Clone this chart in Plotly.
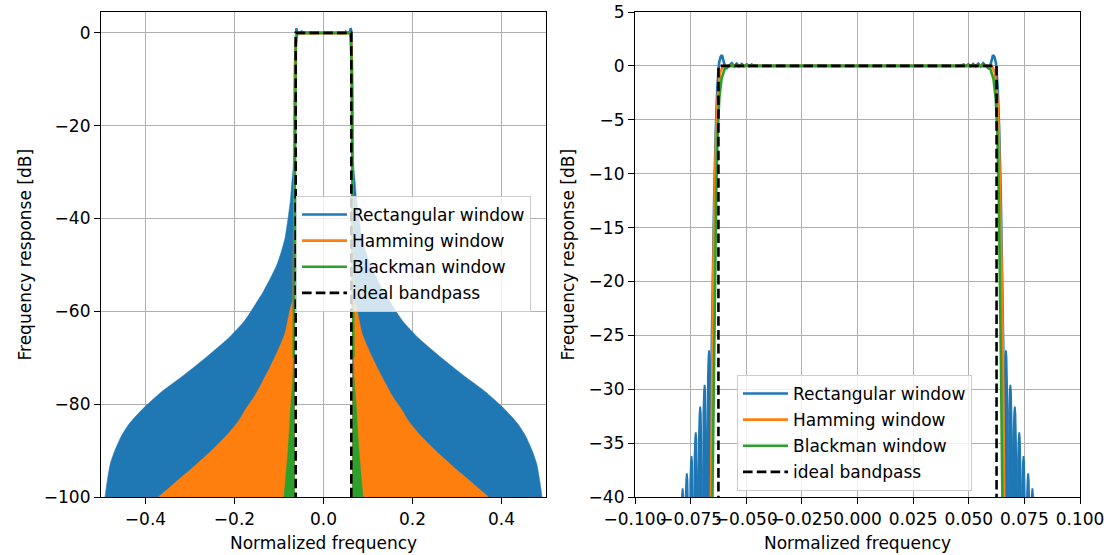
import plotly.graph_objects as go

FONT = "DejaVu Sans"
BLUE, ORANGE, GREEN = "#1f77b4", "#ff7f0e", "#2ca02c"
W, H = 1107, 555

# ---------------- tick positions ----------------
left_xticks = [-0.4, -0.2, 0.0, 0.2, 0.4]
left_yticks = [0, -20, -40, -60, -80, -100]
right_xticks = [-0.100, -0.075, -0.050, -0.025, 0.000, 0.025, 0.050, 0.075, 0.100]
right_yticks = [5, 0, -5, -10, -15, -20, -25, -30, -35, -40]

# ---------------- ideal bandpass ----------------
ideal_f = [-0.5, -0.0625, -0.0625, 0.0625, 0.0625, 0.5]
ideal_db = [-300, -300, 0, 0, -300, -300]

# ---------------- rectangular window (lower-frequency side, mirrored) ----------------
# main-lobe edge and passband ripple
rect_edge_f = [-0.0665, -0.0663, -0.0658, -0.0651, -0.0644, -0.0637, -0.0630, -0.0622,
               -0.0615, -0.0609, -0.0602, -0.0595, -0.0588, -0.0576, -0.0565, -0.0554,
               -0.0543, -0.0531, -0.0520, -0.0509, -0.0498, -0.0487, -0.0476, -0.0465, -0.0450]
rect_edge_db = [-60, -40, -30, -20, -12, -6, -2, 0.3,
                0.85, 1.0, 0.45, -0.1, -0.22, 0.05, 0.25, -0.05,
                0.2, -0.05, 0.18, -0.03, 0.15, -0.02, 0.12, 0.0, 0.0]
# side-lobe peaks next to the transition band
rect_lobe_f = [-0.0786, -0.0767, -0.0746, -0.0727, -0.0707, -0.0687, -0.0667]
rect_lobe_db = [-39.2, -37.8, -36.2, -34.0, -31.6, -29.6, -26.4]
# far stop-band envelope
rect_env_f = [-0.491, -0.486, -0.479, -0.4685, -0.455, -0.4387, -0.420, -0.401, -0.3636,
              -0.3187, -0.2663, -0.2139, -0.1764, -0.146, -0.135, -0.120, -0.105,
              -0.095, -0.0865]
rect_env_db = [-100, -96.5, -92.8, -89.9, -87.0, -84.5, -82.4, -80.5, -77.3,
               -74.1, -70.1, -65.8, -61.9, -57.4, -55.7, -53.0, -50.0,
               -47.2, -44.2]

# ---------------- Hamming window ----------------
ham_edge_f = [-0.0668, -0.0660, -0.0655, -0.0649, -0.0642, -0.0635, -0.0627, -0.0617,
              -0.0605, -0.0590]
ham_edge_db = [-60, -40, -30, -20, -12, -6, -2.5, -0.6, -0.05, 0.0]
ham_env_f = [-0.3712, -0.350, -0.3263, -0.300, -0.2663, -0.240, -0.2139, -0.190,
             -0.1764, -0.155, -0.1389, -0.120, -0.1090, -0.095, -0.0865, -0.0753, -0.0700]
ham_env_db = [-100, -98.3, -96.3, -94.2, -91.3, -88.9, -86.3, -83.5,
              -81.3, -78.3, -75.5, -72.0, -69.8, -66.8, -64.7, -59.7, -58.0]

# ---------------- Blackman window ----------------
black_edge_f = [-0.0670, -0.0651, -0.0646, -0.0641, -0.0635, -0.0628, -0.0621, -0.0611,
                -0.0597, -0.0580]
black_edge_db = [-70, -40, -30, -20, -12, -6, -3, -1.2, -0.3, 0.0]
black_env_f = [-0.0888, -0.0791, -0.0737, -0.0692, -0.0672]
black_env_db = [-100, -89.2, -80.5, -74.8, -70.0]

LW = 2.6
FOOT_F = -0.0650      # where the stop-band fills meet the transition band
LOBE_SPACING = 0.0020


def tick_text(vals, nd):
    out = []
    for v in vals:
        s = f"{abs(v):.{nd}f}"
        out.append(("\u2212" + s) if v < 0 else s)
    return out


def mirrored(fs, vs):
    """Build the full symmetric response from its lower-frequency half."""
    return fs + [-f for f in reversed(fs)], vs + list(reversed(vs))


def stop_fill(fs, vs):
    """Closed stop-band regions on both sides (filled down to the axis floor)."""
    xl = fs + [FOOT_F]
    yl = vs + [-100]
    xr = [-f for f in xl]
    return xl + [None] + xr, yl + [None] + yl


def lobe_shapes(fs, vs):
    offs = [-0.48, -0.40, -0.28, -0.14, 0.0, 0.14, 0.28, 0.40, 0.48]
    drop = [-40, -6, -2.5, -0.6, 0, -0.6, -2.5, -6, -40]
    xs, ys = [], []
    for side in (1, -1):
        for f, v in zip(fs, vs):
            for o, d in zip(offs, drop):
                xs.append(side * f + o * LOBE_SPACING)
                ys.append(v + d)
            xs.append(None)
            ys.append(None)
    return xs, ys


fig = go.Figure()

# ======== left panel: full band ========
for (fs, vs, col) in [(rect_env_f + rect_lobe_f, rect_env_db + rect_lobe_db, BLUE),
                      (ham_env_f, ham_env_db, ORANGE),
                      (black_env_f, black_env_db, GREEN)]:
    xs, ys = stop_fill(fs, vs)
    fig.add_trace(go.Scatter(x=xs, y=ys, mode="lines", fill="toself", fillcolor=col,
                             line=dict(color=col, width=0.5, shape="spline", smoothing=0.6),
                             showlegend=False, hoverinfo="skip", xaxis="x", yaxis="y"))

series = [("Rectangular window", rect_edge_f, rect_edge_db, BLUE),
          ("Hamming window", ham_edge_f, ham_edge_db, ORANGE),
          ("Blackman window", black_edge_f, black_edge_db, GREEN)]

for i, (name, fs, vs, col) in enumerate(series):
    xs, ys = mirrored(fs, vs)
    fig.add_trace(go.Scatter(x=xs, y=ys, mode="lines", name=name,
                             line=dict(color=col, width=LW), legendgroup=f"g{i}",
                             legend="legend", xaxis="x", yaxis="y"))
fig.add_trace(go.Scatter(x=ideal_f, y=ideal_db, mode="lines", name="ideal bandpass",
                         line=dict(color="black", width=LW, dash="9.6px,4.2px"),
                         legendgroup="g3", legend="legend", xaxis="x", yaxis="y"))

# ======== right panel: transition bands ========
lx, ly = lobe_shapes(rect_lobe_f, rect_lobe_db)
fig.add_trace(go.Scatter(x=lx, y=ly, mode="lines", fill="toself", fillcolor=BLUE,
                         line=dict(color=BLUE, width=1.8), showlegend=False,
                         hoverinfo="skip", xaxis="x2", yaxis="y2"))
for i, (name, fs, vs, col) in enumerate(series):
    xs, ys = mirrored(fs, vs)
    fig.add_trace(go.Scatter(x=xs, y=ys, mode="lines", name=name,
                             line=dict(color=col, width=LW), legendgroup=f"h{i}",
                             legend="legend2", xaxis="x2", yaxis="y2"))
fig.add_trace(go.Scatter(x=ideal_f, y=ideal_db, mode="lines", name="ideal bandpass",
                         line=dict(color="black", width=LW, dash="9.6px,4.2px"),
                         legendgroup="h3", legend="legend2", xaxis="x2", yaxis="y2"))

axis_style = dict(showgrid=True, gridcolor="#b0b0b0", gridwidth=1.2, showline=True,
                  mirror=True, linecolor="black", linewidth=1.2, ticks="outside",
                  ticklen=6, tickwidth=1.2, tickcolor="black", zeroline=False,
                  automargin=False,
                  tickfont=dict(family=FONT, size=17, color="black"), tickmode="array")

legend_style = dict(xanchor="left", yanchor="top", bgcolor="rgba(255,255,255,0.8)",
                    bordercolor="#cccccc", borderwidth=1, itemwidth=45,
                    font=dict(family=FONT, size=17, color="black"),
                    traceorder="grouped", tracegroupgap=1)

ydom = [1 - 497 / H, 1 - 12 / H]
fig.update_layout(
    width=W, height=H, autosize=False,
    margin=dict(l=0, r=0, t=0, b=0, pad=0, autoexpand=False),
    paper_bgcolor="white", plot_bgcolor="white",
    font=dict(family=FONT, size=17, color="black"),
    xaxis=dict(domain=[101 / W, 546 / W], range=[-0.5, 0.5], anchor="y",
               tickvals=left_xticks, ticktext=tick_text(left_xticks, 1), tickangle=0,
               **axis_style),
    yaxis=dict(domain=ydom, range=[-100, 4.5], anchor="x",
               tickvals=left_yticks, ticktext=tick_text(left_yticks, 0), **axis_style),
    xaxis2=dict(domain=[635 / W, 1080 / W], range=[-0.1, 0.1], anchor="y2",
                tickvals=right_xticks, ticktext=tick_text(right_xticks, 3), tickangle=0,
                **axis_style),
    yaxis2=dict(domain=ydom, range=[-40, 5], anchor="x2",
                tickvals=right_yticks, ticktext=tick_text(right_yticks, 0), **axis_style),
    legend=dict(x=296 / W, y=1 - 196 / H, **legend_style),
    legend2=dict(x=737 / W, y=1 - 375 / H, **legend_style),
    showlegend=True,
)

titles = [
    dict(text="Normalized frequency", x=323.5 / W, y=1 - 543 / H, textangle=0),
    dict(text="Normalized frequency", x=857.5 / W, y=1 - 543 / H, textangle=0),
    dict(text="Frequency response [dB]", x=24 / W, y=1 - 254.5 / H, textangle=-90),
    dict(text="Frequency response [dB]", x=567 / W, y=1 - 254.5 / H, textangle=-90),
]
for t in titles:
    fig.add_annotation(text=t["text"], x=t["x"], y=t["y"], xref="paper", yref="paper",
                       xanchor="center", yanchor="middle", showarrow=False,
                       textangle=t["textangle"],
                       font=dict(family=FONT, size=17, color="black"))

fig.write_html("out.html")
